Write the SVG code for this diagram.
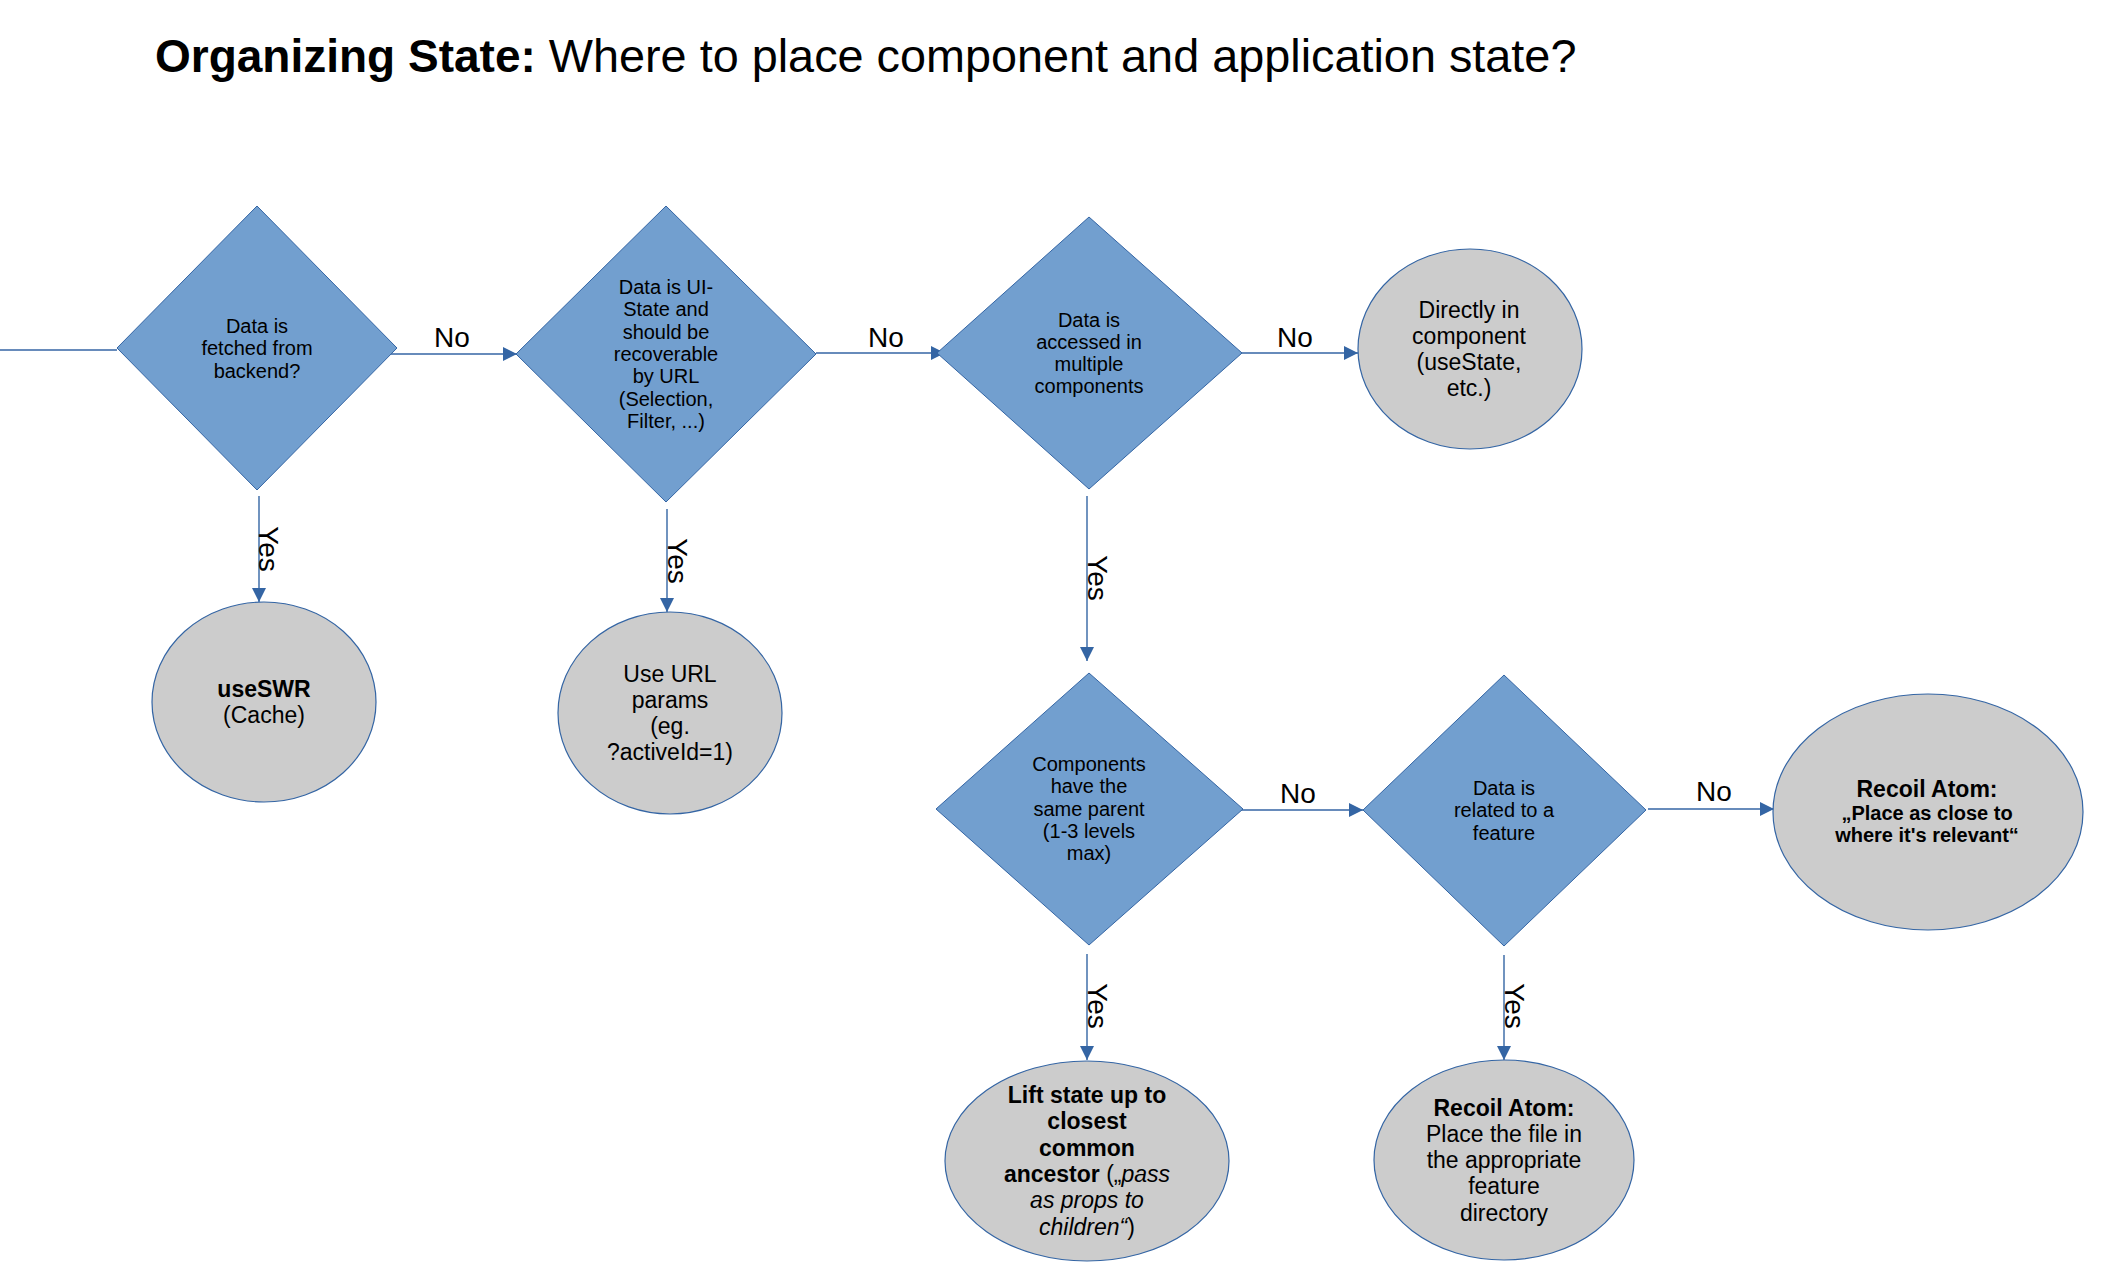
<svg xmlns="http://www.w3.org/2000/svg" width="2114" height="1287" viewBox="0 0 2114 1287">
<style>
text { font-family: "Liberation Sans", Arial, sans-serif; fill: #000; }
.dia { fill: #729fcf; stroke: #3465a4; stroke-width: 1; }
.ell { fill: #cccccc; stroke: #3465a4; stroke-width: 1.2; }
.dt { font-size: 20px; text-anchor: middle; }
.et { font-size: 23px; text-anchor: middle; }
.lbl { font-size: 28px; text-anchor: middle; }
.con { fill: none; stroke: #3465a4; stroke-width: 1.4; }
.b { font-weight: bold; }
.i { font-style: italic; }
</style>
<defs>
<marker id="arr" markerUnits="userSpaceOnUse" markerWidth="14" markerHeight="14" refX="14" refY="7" orient="auto">
<path d="M0,0 L14,7 L0,14 z" fill="#3465a4"/>
</marker>
</defs>

<text x="155" y="72" style="font-size:46px"><tspan class="b">Organizing State:</tspan><tspan style="font-size:46.8px"> Where to place component and application state?</tspan></text>

<g id="connectors">
<path class="con" d="M0,350 L117,350"/>
<path class="con" d="M390,354 L517,354" marker-end="url(#arr)"/>
<path class="con" d="M816,353 L945,353" marker-end="url(#arr)"/>
<path class="con" d="M1231,353 L1358,353" marker-end="url(#arr)"/>
<path class="con" d="M259,496 L259,602" marker-end="url(#arr)"/>
<path class="con" d="M667,509 L667,612" marker-end="url(#arr)"/>
<path class="con" d="M1087,496 L1087,661" marker-end="url(#arr)"/>
<path class="con" d="M1233,810 L1363,810" marker-end="url(#arr)"/>
<path class="con" d="M1648,809 L1774,809" marker-end="url(#arr)"/>
<path class="con" d="M1087,954 L1087,1060" marker-end="url(#arr)"/>
<path class="con" d="M1504,955 L1504,1060" marker-end="url(#arr)"/>
<text class="lbl" x="452" y="347">No</text>
<text class="lbl" x="886" y="347">No</text>
<text class="lbl" x="1295" y="347">No</text>
<text class="lbl" x="1298" y="803">No</text>
<text class="lbl" x="1714" y="801">No</text>
<text class="lbl" transform="translate(259,549) rotate(90)">Yes</text>
<text class="lbl" transform="translate(668,561) rotate(90)">Yes</text>
<text class="lbl" transform="translate(1088,578) rotate(90)">Yes</text>
<text class="lbl" transform="translate(1088,1006) rotate(90)">Yes</text>
<text class="lbl" transform="translate(1505,1006) rotate(90)">Yes</text>
</g>

<g id="d1">
<polygon class="dia" points="257,206 397,348 257,490 117,348"/>
<text class="dt"><tspan x="257" y="333">Data is</tspan><tspan x="257" dy="22.3">fetched from</tspan><tspan x="257" dy="22.3">backend?</tspan></text>
</g>
<g id="d2">
<polygon class="dia" points="666,206 816,354 666,502 516,354"/>
<text class="dt"><tspan x="666" y="294">Data is UI-</tspan><tspan x="666" dy="22.3">State and</tspan><tspan x="666" dy="22.3">should be</tspan><tspan x="666" dy="22.3">recoverable</tspan><tspan x="666" dy="22.3">by URL</tspan><tspan x="666" dy="22.3">(Selection,</tspan><tspan x="666" dy="22.3">Filter, ...)</tspan></text>
</g>
<g id="d3">
<polygon class="dia" points="1089,217 1242,353 1089,489 937,353"/>
<text class="dt"><tspan x="1089" y="326.5">Data is</tspan><tspan x="1089" dy="22.3">accessed in</tspan><tspan x="1089" dy="22.3">multiple</tspan><tspan x="1089" dy="22.3">components</tspan></text>
</g>
<g id="d4">
<polygon class="dia" points="1089,673 1243,809 1089,945 936,809"/>
<text class="dt"><tspan x="1089" y="771">Components</tspan><tspan x="1089" dy="22.3">have the</tspan><tspan x="1089" dy="22.3">same parent</tspan><tspan x="1089" dy="22.3">(1-3 levels</tspan><tspan x="1089" dy="22.3">max)</tspan></text>
</g>
<g id="d5">
<polygon class="dia" points="1504,675 1646,810 1504,946 1363,810"/>
<text class="dt"><tspan x="1504" y="795">Data is</tspan><tspan x="1504" dy="22.3">related to a</tspan><tspan x="1504" dy="22.3">feature</tspan></text>
</g>

<g id="e-direct">
<ellipse class="ell" cx="1470" cy="349" rx="112" ry="100"/>
<text class="et"><tspan x="1469" y="317.5">Directly in</tspan><tspan x="1469" dy="26.3">component</tspan><tspan x="1469" dy="26.3">(useState,</tspan><tspan x="1469" dy="26.3">etc.)</tspan></text>
</g>
<g id="e-swr">
<ellipse class="ell" cx="264" cy="702" rx="112" ry="100"/>
<text class="et"><tspan x="264" y="697" class="b">useSWR</tspan><tspan x="264" dy="26.3">(Cache)</tspan></text>
</g>
<g id="e-url">
<ellipse class="ell" cx="670" cy="713" rx="112" ry="101"/>
<text class="et"><tspan x="670" y="681.5">Use URL</tspan><tspan x="670" dy="26.3">params</tspan><tspan x="670" dy="26.3">(eg.</tspan><tspan x="670" dy="26.3">?activeId=1)</tspan></text>
</g>
<g id="e-recoil-global">
<ellipse class="ell" cx="1928" cy="812" rx="155" ry="118"/>
<text class="b" text-anchor="middle"><tspan x="1927" y="797" style="font-size:23px">Recoil Atom:</tspan><tspan x="1927" dy="22.5" style="font-size:20px">„Place as close to</tspan><tspan x="1927" dy="22.5" style="font-size:20px">where it's relevant“</tspan></text>
</g>
<g id="e-lift">
<ellipse class="ell" cx="1087" cy="1161" rx="142" ry="100"/>
<text class="et"><tspan x="1087" y="1103" class="b">Lift state up to</tspan><tspan x="1087" dy="26.3" class="b">closest</tspan><tspan x="1087" dy="26.3" class="b">common</tspan><tspan x="1087" dy="26.3" class="b">ancestor </tspan><tspan>(„</tspan><tspan class="i">pass</tspan><tspan x="1087" dy="26.3" class="i">as props to</tspan><tspan x="1087" dy="26.3" class="i">children“</tspan><tspan>)</tspan></text>
</g>
<g id="e-recoil-feature">
<ellipse class="ell" cx="1504" cy="1160" rx="130" ry="100"/>
<text class="et"><tspan x="1504" y="1115.5" class="b">Recoil Atom:</tspan><tspan x="1504" dy="26.3">Place the file in</tspan><tspan x="1504" dy="26.3">the appropriate</tspan><tspan x="1504" dy="26.3">feature</tspan><tspan x="1504" dy="26.3">directory</tspan></text>
</g>
</svg>
